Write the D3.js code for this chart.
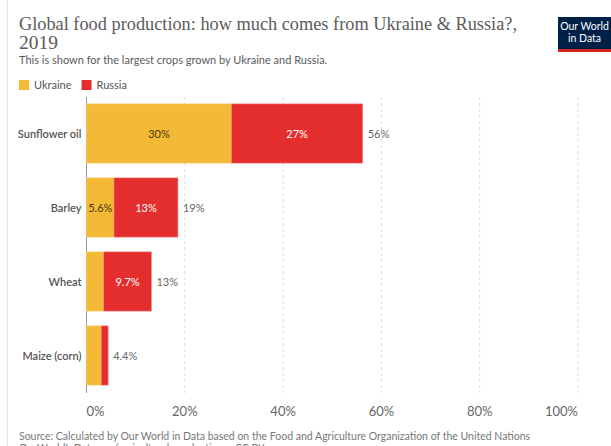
<!DOCTYPE html>
<html><head><meta charset="utf-8">
<script src="https://cdn.jsdelivr.net/npm/d3@7"></script>
<style>
body{margin:0;background:#fff;}
svg{display:block;font-family:Lato,"Open Sans",sans-serif;}
</style></head>
<body>
<script>
const categories = ["Sunflower oil", "Barley", "Wheat", "Maize (corn)"];
const ukraine = [29.5, 5.6, 3.5, 3.0];
const russia = [26.7, 13.0, 9.7, 1.4];
const ukraineLabels = ["30%", "5.6%", "", ""];
const russiaLabels = ["27%", "13%", "9.7%", ""];
const totalLabels = ["56%", "19%", "13%", "4.4%"];
const xTicks = [0, 20, 40, 60, 80, 100];
const seriesNames = ["Ukraine", "Russia"];
const colors = ["#F4B935", "#E42E2E"];

const W = 611, H = 446;
const svg = d3.select("body").append("svg").attr("width", W).attr("height", H);

// left border
svg.append("line").attr("x1", 7.5).attr("x2", 7.5).attr("y1", 0).attr("y2", H).attr("stroke", "#e2e2e2");

// title
svg.append("text").attr("x", 19).attr("y", 30)
  .attr("font-family", "'Liberation Serif','DejaVu Serif',serif").attr("font-size", 19.5).attr("fill", "#5b5b5b")
  .attr("textLength", 498).attr("lengthAdjust", "spacingAndGlyphs")
  .text("Global food production: how much comes from Ukraine & Russia?,");
svg.append("text").attr("x", 19).attr("y", 49)
  .attr("font-family", "'Liberation Serif','DejaVu Serif',serif").attr("font-size", 19.5).attr("fill", "#5b5b5b")
  .text("2019");
svg.append("text").attr("x", 19).attr("y", 64).attr("font-size", 11).attr("fill", "#5b5b5b")
  .text("This is shown for the largest crops grown by Ukraine and Russia.");

// logo
const logo = svg.append("g");
logo.append("rect").attr("x", 558).attr("y", 17).attr("width", 53).attr("height", 35).attr("fill", "#002147");
logo.append("rect").attr("x", 558).attr("y", 49).attr("width", 53).attr("height", 3).attr("fill", "#ce261e");
logo.append("text").attr("x", 584.5).attr("y", 30).attr("text-anchor", "middle").attr("font-size", 10.5).attr("fill", "#fff").text("Our World");
logo.append("text").attr("x", 584.5).attr("y", 42).attr("text-anchor", "middle").attr("font-size", 10.5).attr("fill", "#fff").text("in Data");

// legend
let lx = 19;
seriesNames.forEach((n, i) => {
  svg.append("rect").attr("x", lx).attr("y", 80).attr("width", 10).attr("height", 10).attr("fill", colors[i]);
  const t = svg.append("text").attr("x", lx + 15).attr("y", 89).attr("font-size", 11).attr("fill", "#555").text(n);
  lx += 15 + t.node().getComputedTextLength() + 10;
});

// scales
const x = d3.scaleLinear().domain([0, 100]).range([86.5, 578]);
const y = d3.scaleBand().domain(categories).range([96.5, 392.5]).paddingInner(0.2).paddingOuter(0.1);

// grid
svg.append("g").selectAll("line").data(xTicks.filter(d => d > 0)).join("line")
  .attr("x1", d => x(d)).attr("x2", d => x(d)).attr("y1", 97).attr("y2", 393)
  .attr("stroke", "#ddd").attr("stroke-dasharray", "3,3");

// axis line
svg.append("line").attr("x1", x(0)).attr("x2", x(0)).attr("y1", 97).attr("y2", 393).attr("stroke", "#999");

// tick labels
svg.append("g").selectAll("text").data(xTicks).join("text")
  .attr("x", d => x(d)).attr("y", 416)
  .attr("text-anchor", d => d === 0 ? "start" : d === 100 ? "end" : "middle")
  .attr("dx", d => d === 0 ? 0 : 0)
  .attr("font-size", 13).attr("fill", "#666").text(d => d + "%");

// bars
const rows = categories.map((c, i) => ({c, u: ukraine[i], r: russia[i], ul: ukraineLabels[i], rl: russiaLabels[i], tl: totalLabels[i]}));
const g = svg.append("g");
rows.forEach(d => {
  const y0 = y(d.c), bh = y.bandwidth();
  g.append("rect").attr("x", x(0)).attr("y", y0).attr("width", x(d.u) - x(0)).attr("height", bh)
    .attr("fill", colors[0]).attr("stroke", "#f7cf77").attr("stroke-width", 0.6);
  g.append("rect").attr("x", x(d.u)).attr("y", y0).attr("width", x(d.u + d.r) - x(d.u)).attr("height", bh)
    .attr("fill", colors[1]).attr("stroke", "#ee8080").attr("stroke-width", 0.6);
  const cy = y0 + bh / 2 + 4;
  if (d.ul) g.append("text").attr("x", (x(0) + x(d.u)) / 2).attr("y", cy).attr("text-anchor", "middle")
    .attr("font-size", 11).attr("fill", "#4a3a10").text(d.ul);
  if (d.rl) g.append("text").attr("x", (x(d.u) + x(d.u + d.r)) / 2).attr("y", cy).attr("text-anchor", "middle")
    .attr("font-size", 11).attr("fill", "#fff").text(d.rl);
  g.append("text").attr("x", x(d.u + d.r) + 5).attr("y", cy).attr("font-size", 11).attr("fill", "#666").text(d.tl);
  g.append("text").attr("x", x(0) - 5).attr("y", cy).attr("text-anchor", "end")
    .attr("font-size", 11).attr("font-weight", 600).attr("fill", "#555").text(d.c);
});

// source
svg.append("text").attr("x", 19).attr("y", 440).attr("font-size", 10.5).attr("fill", "#777")
  .text("Source: Calculated by Our World in Data based on the Food and Agriculture Organization of the United Nations");
svg.append("text").attr("x", 19).attr("y", 452).attr("font-size", 10.5).attr("fill", "#777")
  .text("OurWorldInData.org/agricultural-production • CC BY");
</script>
</body></html>
